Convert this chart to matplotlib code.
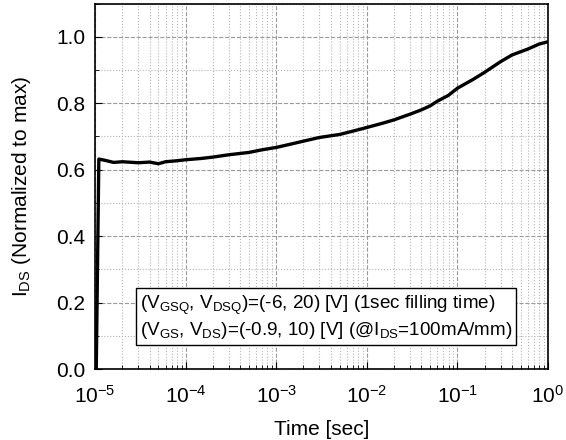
import numpy as np
import matplotlib
matplotlib.use("Agg")
import matplotlib.pyplot as plt
from matplotlib.ticker import MultipleLocator, LogLocator

plt.rcParams['font.family'] = ['Liberation Sans', 'DejaVu Sans']
plt.rcParams['mathtext.fontset'] = 'custom'
plt.rcParams['mathtext.rm'] = 'Liberation Sans'
plt.rcParams['mathtext.it'] = 'Liberation Sans:italic'
plt.rcParams['axes.unicode_minus'] = False

# time [s] and normalized I_DS
t = [1.03e-5, 1.1e-5, 1.3e-5, 1.6e-5, 2e-5, 3e-5, 4e-5, 5e-5, 6e-5, 8e-5,
     1e-4, 1.5e-4, 2e-4, 3e-4, 5e-4, 7e-4, 1e-3, 1.5e-3, 2e-3, 3e-3,
     5e-3, 7e-3, 1e-2, 1.5e-2, 2e-2, 3e-2, 4e-2, 5e-2, 6e-2, 8e-2,
     1e-1, 1.5e-1, 2e-1, 3e-1, 4e-1, 6e-1, 8e-1, 1.0]
ids = [0.0, 0.632, 0.628, 0.622, 0.624, 0.621, 0.623, 0.618, 0.624, 0.627,
       0.630, 0.634, 0.638, 0.645, 0.652, 0.660, 0.667, 0.678, 0.686, 0.697,
       0.706, 0.716, 0.727, 0.740, 0.750, 0.767, 0.780, 0.792, 0.806, 0.824,
       0.845, 0.872, 0.893, 0.925, 0.945, 0.963, 0.978, 0.985]

fig = plt.figure(figsize=(5.66, 4.4), dpi=100)
ax = fig.add_axes([0.168, 0.161, 0.800, 0.831])

ax.plot(t, ids, color='black', lw=2.4)

ax.set_xscale('log')
ax.set_xlim(1e-5, 1)
ax.set_ylim(0, 1.1)
ax.yaxis.set_major_locator(MultipleLocator(0.2))
ax.yaxis.set_minor_locator(MultipleLocator(0.1))
ax.xaxis.set_major_locator(LogLocator(base=10, numticks=10))
ax.xaxis.set_minor_locator(LogLocator(base=10, subs=np.arange(2, 10), numticks=20))
ax.yaxis.set_major_formatter(plt.FormatStrFormatter('%.1f'))

ax.grid(True, which='major', color='#9a9a9a', linestyle='--', lw=0.8)
ax.grid(True, which='minor', color='#b5b5b5', linestyle=':', lw=0.8)
ax.set_axisbelow(True)
ax.tick_params(which='both', direction='in', labelsize=15)
ax.tick_params(which='major', length=5)
ax.tick_params(which='minor', length=3)
ax.tick_params(axis='x', pad=11)
ax.tick_params(axis='y', pad=7)

ax.set_xlabel('Time [sec]', fontsize=15, labelpad=10)
ax.set_ylabel(r'I$_\mathregular{DS}$ (Normalized to max)', fontsize=15, labelpad=17)

txt = ('(V$_\\mathregular{GSQ}$, V$_\\mathregular{DSQ}$)=(-6, 20) [V] (1sec filling time)\n'
       '(V$_\\mathregular{GS}$, V$_\\mathregular{DS}$)=(-0.9, 10) [V] (@I$_\\mathregular{DS}$=100mA/mm)')
ax.text(0.099, 0.142, txt, transform=ax.transAxes, fontsize=13.6, va='center',
        ha='left', linespacing=1.22,
        bbox=dict(boxstyle='square,pad=0.2', fc='white', ec='black', lw=1))

for s in ax.spines.values():
    s.set_linewidth(1.2)

fig.savefig('out.png', dpi=100)
